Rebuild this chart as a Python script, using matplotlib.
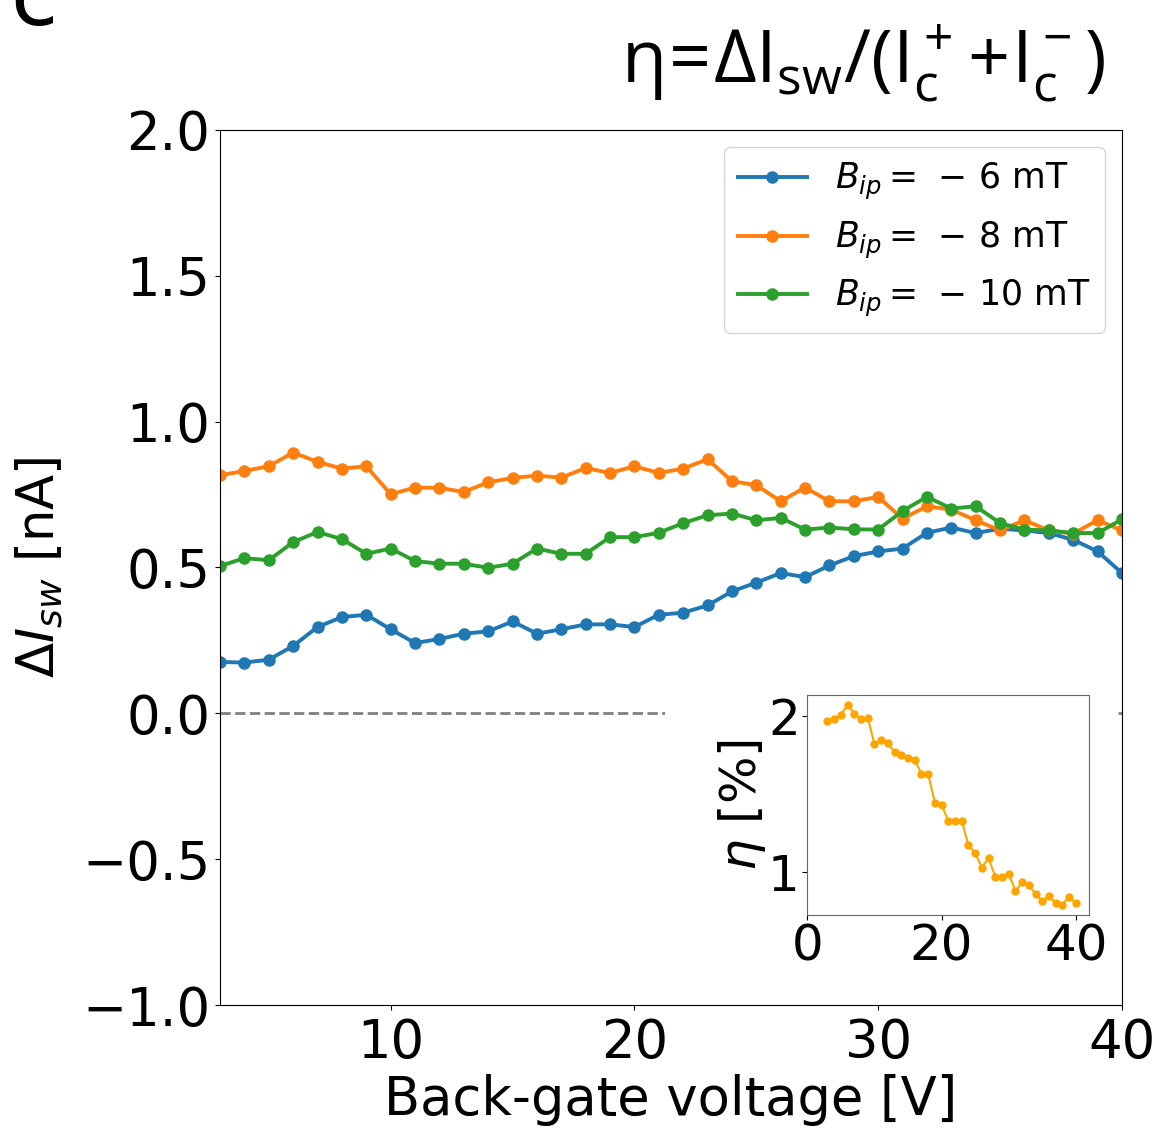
import matplotlib
matplotlib.use("Agg")
import matplotlib.pyplot as plt
from matplotlib.patches import Rectangle
import numpy as np

# back-gate voltage [V]
vbg = np.arange(3, 41)

# delta I_sw [nA] for the three in-plane fields
dI_6mT = [0.176, 0.174, 0.184, 0.231, 0.296, 0.330, 0.338, 0.288, 0.241, 0.255,
          0.273, 0.281, 0.315, 0.273, 0.288, 0.305, 0.305, 0.296, 0.338, 0.345,
          0.370, 0.418, 0.448, 0.481, 0.467, 0.507, 0.539, 0.555, 0.565, 0.619,
          0.637, 0.618, 0.633, 0.627, 0.618, 0.595, 0.555, 0.481]
dI_8mT = [0.816, 0.831, 0.847, 0.894, 0.862, 0.839, 0.847, 0.751, 0.774, 0.773,
          0.759, 0.792, 0.807, 0.815, 0.808, 0.841, 0.824, 0.847, 0.824, 0.839,
          0.871, 0.796, 0.782, 0.727, 0.774, 0.727, 0.727, 0.742, 0.667, 0.710,
          0.698, 0.662, 0.627, 0.662, 0.627, 0.616, 0.662, 0.627]
dI_10mT = [0.505, 0.532, 0.525, 0.587, 0.622, 0.597, 0.547, 0.565, 0.522, 0.513,
           0.513, 0.499, 0.513, 0.565, 0.547, 0.547, 0.604, 0.604, 0.619, 0.652,
           0.679, 0.685, 0.662, 0.670, 0.630, 0.637, 0.631, 0.630, 0.694, 0.742,
           0.702, 0.710, 0.652, 0.630, 0.627, 0.618, 0.618, 0.665]

labels = [r'$B_{ip} =\,-\,6$ mT', r'$B_{ip} =\,-\,8$ mT', r'$B_{ip} =\,-\,10$ mT']
colors = ['#1f77b4', '#ff7f0e', '#2ca02c']

# inset: efficiency eta [%]
eta = [1.968, 1.983, 2.006, 2.070, 2.015, 1.979, 1.989, 1.818, 1.844, 1.823,
       1.769, 1.752, 1.731, 1.716, 1.630, 1.626, 1.444, 1.429, 1.327, 1.327,
       1.327, 1.173, 1.120, 1.028, 1.088, 0.970, 0.970, 0.989, 0.878, 0.932,
       0.917, 0.857, 0.814, 0.846, 0.799, 0.788, 0.842, 0.799]

fig = plt.figure(figsize=(11.68, 11.3), dpi=100)
ax = fig.add_axes([0.1884, 0.1106, 0.7722, 0.7744])

for y, lab, c in zip([dI_6mT, dI_8mT, dI_10mT], labels, colors):
    ax.plot(vbg, y, '-o', color=c, lw=2.8, ms=8, label=lab)

ax.axhline(0, color='gray', ls='--', lw=2, zorder=1)

ax.set_xlim(3, 40)
ax.set_ylim(-1, 2)
ax.set_xticks([10, 20, 30, 40])
ax.set_yticks([-1.0, -0.5, 0.0, 0.5, 1.0, 1.5, 2.0])
ax.tick_params(labelsize=38)
ax.tick_params(axis='x', pad=5)
ax.set_xlabel('Back-gate voltage [V]', fontsize=38, labelpad=4)
ax.set_ylabel(r'$\Delta I_{sw}$ [nA]', fontsize=37, labelpad=12)

ax.legend(loc='upper right', fontsize=25)

# white background under the pasted inset
ax.add_patch(Rectangle((665 / 1168, 1 - 1000 / 1130), 450 / 1168, 315 / 1130,
                       transform=fig.transFigure, facecolor='white',
                       edgecolor='none', zorder=4, clip_on=False))

# title with the definition of eta
fig.text(1105 / 1168, 1 - 82 / 1130,
         r'$\mathregular{η\!=\!ΔI_{sw}/(I_c^+\!+\!I_c^-)}$',
         family='Open Sans', fontsize=53, ha='right', va='baseline')

# panel label, cut at the top edge
fig.text(0.009, 1 - 25 / 1130, 'c', fontsize=62, va='baseline')

# inset
axin = fig.add_axes([0.6912, 0.1903, 0.2414, 0.1947])
axin.plot(vbg, eta, '-o', color='orange', lw=1.5, ms=5)
axin.set_xlim(0, 42)
axin.set_xticks([0, 20, 40])
axin.set_yticks([1, 2])
axin.tick_params(labelsize=36, pad=2)
axin.set_ylabel(r'$\eta$ [%]', fontsize=36, labelpad=0)
for s in axin.spines.values():
    s.set_color('0.4')

fig.savefig('out.png', dpi=100)
